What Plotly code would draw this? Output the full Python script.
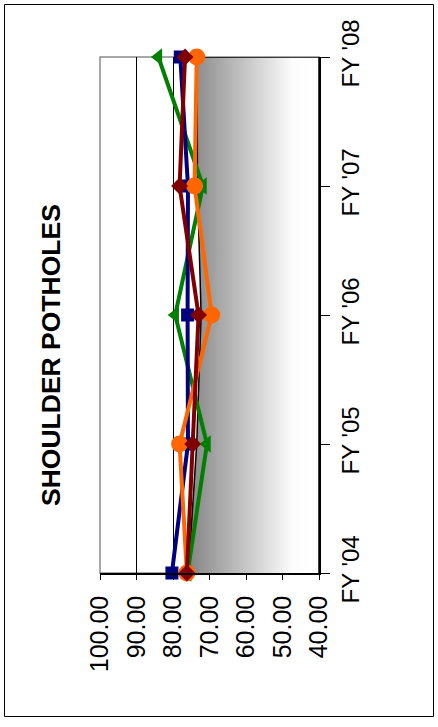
import plotly.graph_objects as go

categories = ["FY '04", "FY '05", "FY '06", "FY '07", "FY '08"]
area_values = [75.8, 73.5, 72.3, 73.3, 73.4]
navy_values = [80.3, 75.9, 76.0, 75.9, 78.0]
green_values = [76.0, 70.7, 79.4, 71.8, 84.0]
orange_values = [76.2, 78.2, 69.4, 74.1, 73.5]
maroon_values = [76.2, 74.6, 73.0, 78.2, 76.7]
value_ticks = [100, 90, 80, 70, 60, 50, 40]
title_text = "SHOULDER POTHOLES"

FONT = "Arial, Liberation Sans, sans-serif"
VMIN, VMAX = 40, 100

fig = go.Figure()

# gradient area (fills from the series to the axis minimum)
fig.add_trace(go.Scatter(
    x=area_values + [VMIN, VMIN],
    y=categories + [categories[-1], categories[0]],
    mode="lines",
    fill="toself",
    fillgradient=dict(type="horizontal", start=VMIN, stop=max(area_values),
                      colorscale=[[0, "#ffffff"], [0.2, "#fcfcfc"], [1, "#848484"]]),
    line=dict(color="black", width=1.5),
    hoverinfo="skip",
    showlegend=False,
))

def add_series(vals, color, symbol, size):
    fig.add_trace(go.Scatter(
        x=vals, y=categories, mode="lines+markers",
        line=dict(color=color, width=4),
        marker=dict(color=color, symbol=symbol, size=size),
        showlegend=False, cliponaxis=False,
    ))

add_series(green_values, "#008000", "triangle-left", 15)
add_series(navy_values, "#000080", "square", 13)
add_series(orange_values, "#FF6600", "circle", 17)
add_series(maroon_values, "#800000", "diamond", 13)

W0, W1 = 100, 319
H0, H1 = 57, 573
PW, PH = W1 - W0, H1 - H0

def px(x):
    return (x - W0) / PW

def py(y):
    return (H1 - y) / PH

fig.update_layout(
    width=438, height=727,
    margin=dict(l=W0, r=438 - W1, t=H0, b=727 - H1),
    paper_bgcolor="white", plot_bgcolor="white",
    font=dict(family=FONT, color="black", size=24),
    showlegend=False,
    xaxis=dict(
        range=[VMAX, VMIN], tickvals=value_ticks, tickformat=".2f",
        tickangle=-90, ticks="outside", ticklen=5, tickcolor="black",
        showgrid=True, gridcolor="black", gridwidth=1,
        showline=True, linecolor="black", linewidth=1.5,
        zeroline=False, tickfont=dict(size=25, family=FONT),
        ticklabelstandoff=6,
    ),
    yaxis=dict(
        type="category", categoryorder="array", categoryarray=categories,
        range=[0, 4], side="right", tickangle=-90,
        ticks="outside", ticklen=9, tickcolor="black",
        showgrid=False, showline=True, linecolor="black", linewidth=1.5,
        zeroline=False, tickfont=dict(size=24, family=FONT),
        ticklabelstandoff=0,
    ),
    shapes=[
        dict(type="rect", xref="paper", yref="paper", x0=0, x1=1, y0=0, y1=1,
             line=dict(color="#8c8c8c", width=1.5), layer="below"),
        dict(type="rect", xref="paper", yref="paper",
             x0=px(4.5), x1=px(433.5), y0=py(716.5), y1=py(4.5),
             line=dict(color="black", width=1)),
    ],
    annotations=[
        dict(text="<b>" + title_text + "</b>", xref="paper", yref="paper",
             x=px(51), y=py(355), textangle=-90, showarrow=False,
             font=dict(size=26.5, family=FONT, color="black"),
             xanchor="center", yanchor="middle"),
    ],
)

fig.write_html("out.html", config={"displayModeBar": False},
               post_script="document.body.style.margin='0';")
